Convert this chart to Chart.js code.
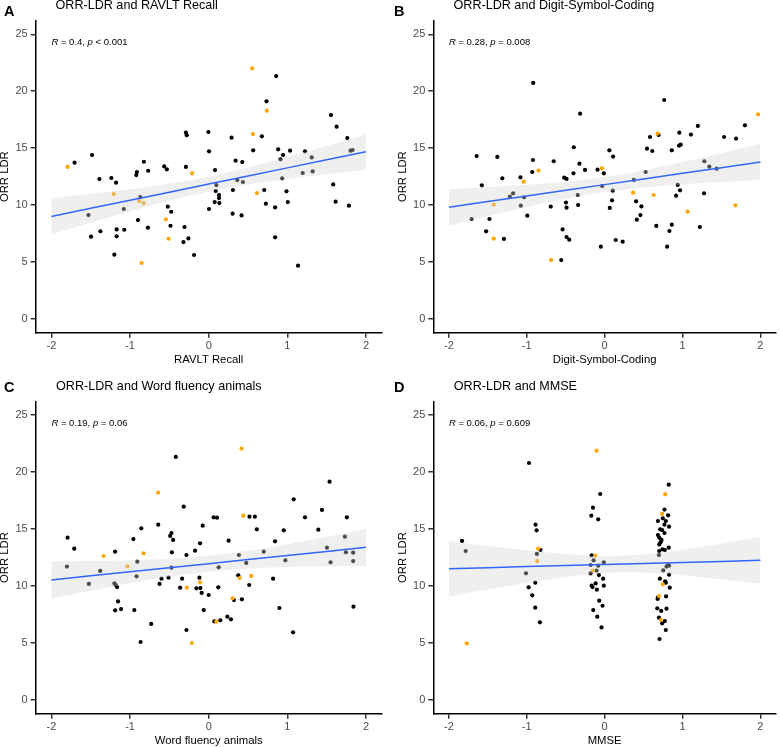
<!DOCTYPE html>
<html lang="en">
<head>
<meta charset="UTF-8">
<title>ORR-LDR correlations</title>
<script src="https://cdn.jsdelivr.net/npm/chart.js"></script>
<style>
    body {
        margin: 0;
        background: #fff;
        font-family: 'Liberation Sans', Arial, sans-serif;
    }
    #fig {
        position: relative;
        width: 780px;
        height: 747px;
        overflow: hidden;
    }
    #fig canvas {
        position: absolute;
    }
    .letter {
        position: absolute;
        font-size: 14.5px;
        font-weight: bold;
        line-height: 1;
        color: #000;
    }
    .title {
        position: absolute;
        font-size: 12.6px;
        line-height: 1;
        color: #000;
        white-space: nowrap;
    }
</style>
</head>
<body>
<div id="fig">
    <canvas id="chartA" width="390" height="370" style="left:0;top:0"></canvas>
    <canvas id="chartB" width="390" height="370" style="left:390px;top:0"></canvas>
    <canvas id="chartC" width="390" height="377" style="left:0;top:370px"></canvas>
    <canvas id="chartD" width="390" height="377" style="left:390px;top:370px"></canvas>

    <div class="letter" style="left:4px;top:3.7px">A</div>
    <div class="title" style="left:55.5px;top:-1.4px">ORR-LDR and RAVLT Recall</div>
    <div class="letter" style="left:394px;top:3.7px">B</div>
    <div class="title" style="left:453.5px;top:-1.4px">ORR-LDR and Digit-Symbol-Coding</div>
    <div class="letter" style="left:4px;top:380.4px">C</div>
    <div class="title" style="left:56px;top:380.3px">ORR-LDR and Word fluency animals</div>
    <div class="letter" style="left:394px;top:380.4px">D</div>
    <div class="title" style="left:453.8px;top:380.3px">ORR-LDR and MMSE</div>
</div>

<script>
// ---- data ----
const xTicks = [-2, -1, 0, 1, 2];
const yTicks = [0, 5, 10, 15, 20, 25];
const bandX = [-2, -1.5, -1, -0.5, 0, 0.5, 1, 1.5, 2];

// A: RAVLT Recall
const ravltBlack = [[-1.706,13.73],[-1.483,14.40],[-1.529,9.13],[-1.496,7.23],[-1.39,12.29],[-1.377,7.70],[-1.238,12.38],[-1.178,11.97],[-1.2,5.65],[-1.17,7.87],[-1.17,7.26],[-1.08,9.66],[-1.073,7.84],[-0.921,12.64],[-0.913,12.91],[-0.9,8.69],[-0.87,10.71],[-0.824,13.81],[-0.769,13.02],[-0.773,8.02],[-0.566,13.40],[-0.532,13.14],[-0.52,9.86],[-0.477,9.42],[-0.486,8.19],[-0.29,16.36],[-0.279,16.13],[-0.29,13.35],[-0.308,8.08],[-0.321,6.76],[-0.258,7.08],[-0.186,5.62],[-0.004,16.42],[0.004,14.72],[0.004,9.66],[0.08,13.08],[0.097,11.76],[0.089,11.24],[0.131,10.89],[0.131,10.62],[0.135,10.18],[0.076,10.27],[0.291,15.92],[0.308,11.33],[0.304,9.25],[0.342,13.90],[0.363,12.20],[0.427,13.78],[0.435,12.03],[0.418,9.10],[0.566,14.81],[0.676,16.04],[0.735,19.11],[0.706,11.33],[0.727,10.13],[0.858,21.33],[0.883,14.90],[0.913,14.02],[0.946,14.40],[0.934,12.35],[1.035,14.78],[0.989,11.21],[1.006,10.27],[0.845,9.80],[0.845,7.17],[1.136,4.68],[1.196,12.82],[1.225,14.72],[1.31,14.19],[1.322,12.96],[1.555,17.91],[1.627,16.89],[1.584,11.82],[1.614,10.30],[1.762,15.89],[1.804,14.78],[1.83,14.84],[1.783,9.95]];
const ravltOrange = [[-1.795,13.35],[-1.208,10.97],[-0.883,10.36],[-0.853,4.92],[-0.828,10.18],[-0.545,8.75],[-0.511,7.05],[-0.211,12.79],[0.553,22.01],[0.562,16.24],[0.613,11.06],[0.739,18.29]];
const ravltFit = [9.01, 9.72, 10.43, 11.14, 11.85, 12.56, 13.27, 13.98, 14.69];
const ravltUpper = [10.6, 11.0, 11.4, 11.9, 12.5, 13.3, 14.25, 15.2, 16.2];
const ravltLower = [7.45, 8.45, 9.45, 10.4, 11.2, 11.8, 12.3, 12.7, 13.1];

// B: Digit-Symbol-Coding
const dscBlack = [[-1.708,8.78],[-1.644,14.31],[-1.577,11.74],[-1.522,7.70],[-1.479,8.78],[-1.378,14.23],[-1.314,12.35],[-1.293,7.03],[-1.217,10.74],[-1.175,11.04],[-1.081,12.44],[-1.077,9.95],[-1.035,10.69],[-0.993,9.07],[-0.917,20.73],[-0.921,13.96],[-0.93,12.91],[-0.692,9.87],[-0.654,13.85],[-0.557,5.18],[-0.54,7.87],[-0.519,12.41],[-0.489,12.30],[-0.497,10.22],[-0.489,9.78],[-0.489,7.20],[-0.455,6.97],[-0.4,12.79],[-0.396,15.08],[-0.345,10.89],[-0.341,10.01],[-0.324,13.64],[-0.315,18.03],[-0.252,13.09],[-0.091,13.11],[-0.049,6.35],[-0.032,11.68],[-0.011,12.79],[0.061,14.81],[0.066,9.75],[0.095,10.42],[0.104,11.27],[0.108,14.26],[0.142,6.94],[0.231,6.79],[0.375,12.21],[0.404,10.33],[0.413,8.72],[0.459,9.13],[0.472,9.89],[0.527,12.91],[0.544,14.96],[0.582,15.98],[0.612,14.75],[0.663,8.17],[0.692,16.16],[0.764,19.23],[0.802,6.35],[0.832,7.73],[0.862,14.81],[0.862,8.28],[0.917,10.83],[0.938,11.77],[0.955,15.22],[0.959,16.36],[0.968,11.30],[0.976,15.31],[1.108,16.19],[1.197,16.95],[1.222,8.08],[1.276,11.04],[1.28,13.85],[1.344,13.38],[1.437,13.20],[1.534,15.98],[1.687,15.84],[1.801,17.01]];
const dscOrange = [[-1.424,10.04],[-1.424,7.06],[-1.039,12.06],[-0.849,13.03],[-0.688,5.18],[-0.036,13.23],[0.366,11.09],[0.629,10.89],[0.68,16.28],[1.064,9.43],[1.678,9.98],[1.97,17.97]];
const dscFit = [9.81, 10.31, 10.81, 11.30, 11.80, 12.30, 12.80, 13.29, 13.79];
const dscUpper = [11.41, 11.59, 11.79, 12.06, 12.48, 13.06, 13.78, 14.56, 15.36];
const dscLower = [8.21, 9.03, 9.83, 10.54, 11.12, 11.54, 11.82, 12.02, 12.22];

// C: Word fluency animals
const wfBlack = [[-1.795,14.24],[-1.803,11.70],[-1.71,13.27],[-1.524,10.18],[-1.38,11.32],[-1.19,13.01],[-1.199,10.23],[-1.182,10.09],[-1.165,9.91],[-1.153,8.65],[-1.19,7.87],[-1.114,7.98],[-0.958,14.12],[-0.946,7.89],[-0.908,12.13],[-0.917,10.85],[-0.857,15.06],[-0.866,5.09],[-0.731,6.67],[-0.642,15.38],[-0.625,10.18],[-0.6,10.64],[-0.511,10.73],[-0.49,14.39],[-0.473,14.65],[-0.452,14.04],[-0.469,12.95],[-0.473,11.61],[-0.418,21.32],[-0.363,9.85],[-0.338,10.64],[-0.317,16.96],[-0.283,12.72],[-0.283,6.14],[-0.173,13.10],[-0.156,9.80],[-0.118,10.73],[-0.11,13.74],[-0.106,9.82],[-0.089,9.39],[-0.076,15.29],[-0.063,7.89],[0,9.21],[0.063,16.02],[0.106,15.99],[0.072,6.90],[0.127,11.64],[0.122,9.88],[0.148,6.99],[0.253,13.98],[0.237,7.31],[0.283,7.08],[0.321,8.77],[0.376,10.94],[0.384,12.72],[0.422,8.83],[0.477,12.02],[0.519,16.08],[0.515,10.09],[0.587,16.08],[0.612,14.97],[0.7,13.01],[0.819,10.64],[0.844,13.92],[0.899,8.07],[0.954,14.88],[0.975,12.25],[1.073,5.94],[1.081,17.60],[1.225,16.02],[1.394,14.94],[1.44,16.67],[1.504,13.36],[1.55,12.08],[1.537,19.15],[1.732,14.33],[1.745,12.95],[1.757,16.02],[1.837,12.92],[1.837,12.19],[1.841,8.19]];
const wfOrange = [[-1.338,12.63],[-1.034,11.73],[-0.828,12.87],[-0.642,18.19],[-0.279,9.85],[-0.215,5.0],[-0.11,10.32],[0.097,6.87],[0.304,8.92],[0.393,10.70],[0.418,22.05],[0.439,16.17],[0.54,10.88]];
const wfFit = [10.53, 10.89, 11.25, 11.60, 11.96, 12.32, 12.67, 13.03, 13.39];
const wfUpper = [12.17, 12.19, 12.25, 12.38, 12.66, 13.10, 13.67, 14.33, 15.03];
const wfLower = [8.89, 9.59, 10.25, 10.82, 11.26, 11.54, 11.67, 11.73, 11.75];

// D: MMSE
const mmseBlack = [[-1.831,13.95],[-1.784,13.07],[-1.01,11.11],[-0.971,20.79],[-0.976,9.88],[-0.929,9.18],[-0.887,15.38],[-0.874,14.88],[-0.87,12.81],[-0.824,13.16],[-0.891,10.29],[-0.891,8.10],[-0.832,6.81],
    [-0.057,18.07],[-0.15,16.87],[-0.171,16.17],[-0.083,15.85],[-0.167,12.69],[-0.142,12.25],[-0.011,12.08],[-0.18,11.84],[-0.083,11.78],[-0.104,11.35],[-0.18,11.11],[-0.074,10.96],[-0.019,10.64],[-0.116,10.23],[-0.167,10.03],[-0.155,9.91],[-0.011,10.03],[-0.1,9.68],[-0.07,8.71],[-0.027,8.27],[-0.146,7.89],[-0.095,7.31],[-0.04,6.37],
    [0.823,18.89],[0.768,16.70],[0.815,16.20],[0.747,15.94],[0.684,15.70],[0.785,15.70],[0.768,15.38],[0.827,15.20],[0.713,14.97],[0.739,14.91],[0.768,14.65],[0.684,14.47],[0.701,14.24],[0.73,14.04],[0.718,13.83],[0.701,13.65],[0.823,13.36],[0.743,13.22],[0.773,13.16],[0.701,13.07],[0.697,12.72],[0.811,11.84],[0.827,11.78],[0.794,11.70],[0.752,11.37],[0.827,10.99],[0.709,10.64],[0.777,10.41],[0.785,10.29],[0.836,9.85],[0.684,9.01],[0.789,9.09],[0.68,8.86],[0.676,8.04],[0.794,8.01],[0.726,7.81],[0.697,7.22],[0.773,6.93],[0.739,6.73],[0.785,6.14],[0.705,5.35]];
const mmseOrange = [[-1.771,4.97],[-0.853,13.27],[-0.866,12.19],[-0.104,21.87],[-0.121,12.66],[-0.15,11.35],[0.777,18.04],[0.739,16.32],[0.747,10.15],[0.697,9.12],[0.722,7.02]];
const mmseFit = [11.52, 11.61, 11.70, 11.79, 11.885, 11.98, 12.07, 12.16, 12.25];
const mmseUpper = [13.93, 13.52, 13.14, 12.81, 12.64, 12.78, 13.19, 13.73, 14.30];
const mmseLower = [9.11, 9.70, 10.26, 10.77, 11.14, 11.18, 10.95, 10.59, 10.20];

const xTitles = ['RAVLT Recall', 'Digit-Symbol-Coding', 'Word fluency animals', 'MMSE'];
const corR = ['0.4', '0.28', '0.19', '0.06'];
const corP = ['< 0.001', '= 0.008', '= 0.06', '= 0.609'];

Chart.defaults.font.family = "'Liberation Sans', Arial, sans-serif";

// R = .., p = .. label with italic R and p
const corLabel = {
    id: 'corLabel',
    afterDatasetsDraw(chart, args, opts) {
        const ctx = chart.ctx;
        let x = chart.scales.x.getPixelForValue(-2);
        const y = chart.scales.y.getPixelForValue(24.05);
        const parts = [['R', true], [' = ' + opts.r + ', ', false], ['p', true], [' ' + opts.p, false]];
        ctx.save();
        ctx.fillStyle = '#000';
        ctx.textBaseline = 'alphabetic';
        parts.forEach(([t, italic]) => {
            ctx.font = (italic ? 'italic ' : '') + "9.5px 'Liberation Sans', Arial, sans-serif";
            ctx.fillText(t, x, y);
            x += ctx.measureText(t).width;
        });
        ctx.restore();
    }
};

function toPts(arr) {
    return arr.map(p => ({ x: p[0], y: p[1] }));
}
function alongX(vals) {
    return bandX.map((x, i) => ({ x: x, y: vals[i] }));
}

function drawPanel(id, lay, black, orange, fit, upper, lower, k) {
    new Chart(document.getElementById(id), {
        type: 'scatter',
        data: {
            datasets: [
                { data: alongX(fit), showLine: true, borderColor: '#3366FF', borderWidth: 1.5, pointRadius: 0, order: 0 },
                { data: alongX(upper), showLine: true, borderWidth: 0, borderColor: 'rgba(0,0,0,0)', pointRadius: 0,
                  tension: 0.4, fill: '+1', backgroundColor: 'rgba(210,210,210,0.36)', order: 1 },
                { data: alongX(lower), showLine: true, borderWidth: 0, borderColor: 'rgba(0,0,0,0)', pointRadius: 0,
                  tension: 0.4, fill: false, order: 1 },
                { data: toPts(orange), pointRadius: 2.1, pointBorderWidth: 0, pointBackgroundColor: '#FFA500', order: 2 },
                { data: toPts(black), pointRadius: 2.1, pointBorderWidth: 0, pointBackgroundColor: '#000000', order: 3 }
            ]
        },
        options: {
            responsive: false,
            animation: false,
            events: [],
            layout: { padding: { left: 0, right: lay.pr, top: lay.pt, bottom: 0 } },
            plugins: {
                legend: { display: false },
                tooltip: { enabled: false },
                corLabel: { r: corR[k], p: corP[k] }
            },
            scales: {
                x: {
                    type: 'linear', min: -2.2, max: 2.2,
                    afterBuildTicks: s => { s.ticks = xTicks.map(v => ({ value: v })); },
                    afterFit: s => { s.height = lay.xh; },
                    border: { display: true, color: '#000', width: 1.5 },
                    grid: { display: true, drawOnChartArea: false, drawTicks: true, tickLength: 5, color: '#333', lineWidth: 1.5 },
                    ticks: { color: '#4d4d4d', font: { size: 11 }, padding: 2, maxRotation: 0 },
                    title: { display: true, text: xTitles[k], color: '#000', font: { size: 11.3, lineHeight: 1.2 },
                             padding: { top: 0, bottom: lay.xtp } }
                },
                y: {
                    type: 'linear', min: -1.2, max: 26.2,
                    afterBuildTicks: s => { s.ticks = yTicks.map(v => ({ value: v })); },
                    afterFit: s => { s.width = lay.yw; },
                    border: { display: true, color: '#000', width: 1.5 },
                    grid: { display: true, drawOnChartArea: false, drawTicks: true, tickLength: 5, color: '#333', lineWidth: 1.5 },
                    ticks: { color: '#4d4d4d', font: { size: 11 }, padding: 3 },
                    title: { display: true, text: 'ORR LDR', color: '#000', font: { size: 11.3, lineHeight: 1.2 },
                             padding: { top: lay.ytp, bottom: 0 } }
                }
            }
        },
        plugins: [corLabel]
    });
}

drawPanel('chartA', { yw: 35.7, ytp: -2.1, xh: 37.3, xtp: 3.7, pt: 20.6, pr: 8.3 },
    ravltBlack, ravltOrange, ravltFit, ravltUpper, ravltLower, 0);
drawPanel('chartB', { yw: 43.3, ytp: 5.7, xh: 37.3, xtp: 3.7, pt: 20.6, pr: 0.2 },
    dscBlack, dscOrange, dscFit, dscUpper, dscLower, 1);
drawPanel('chartC', { yw: 35.7, ytp: -2.1, xh: 33.3, xtp: -0.3, pt: 31.3, pr: 8.3 },
    wfBlack, wfOrange, wfFit, wfUpper, wfLower, 2);
drawPanel('chartD', { yw: 43.3, ytp: 5.7, xh: 33.3, xtp: -0.3, pt: 31.3, pr: 0.2 },
    mmseBlack, mmseOrange, mmseFit, mmseUpper, mmseLower, 3);
</script>
</body>
</html>
